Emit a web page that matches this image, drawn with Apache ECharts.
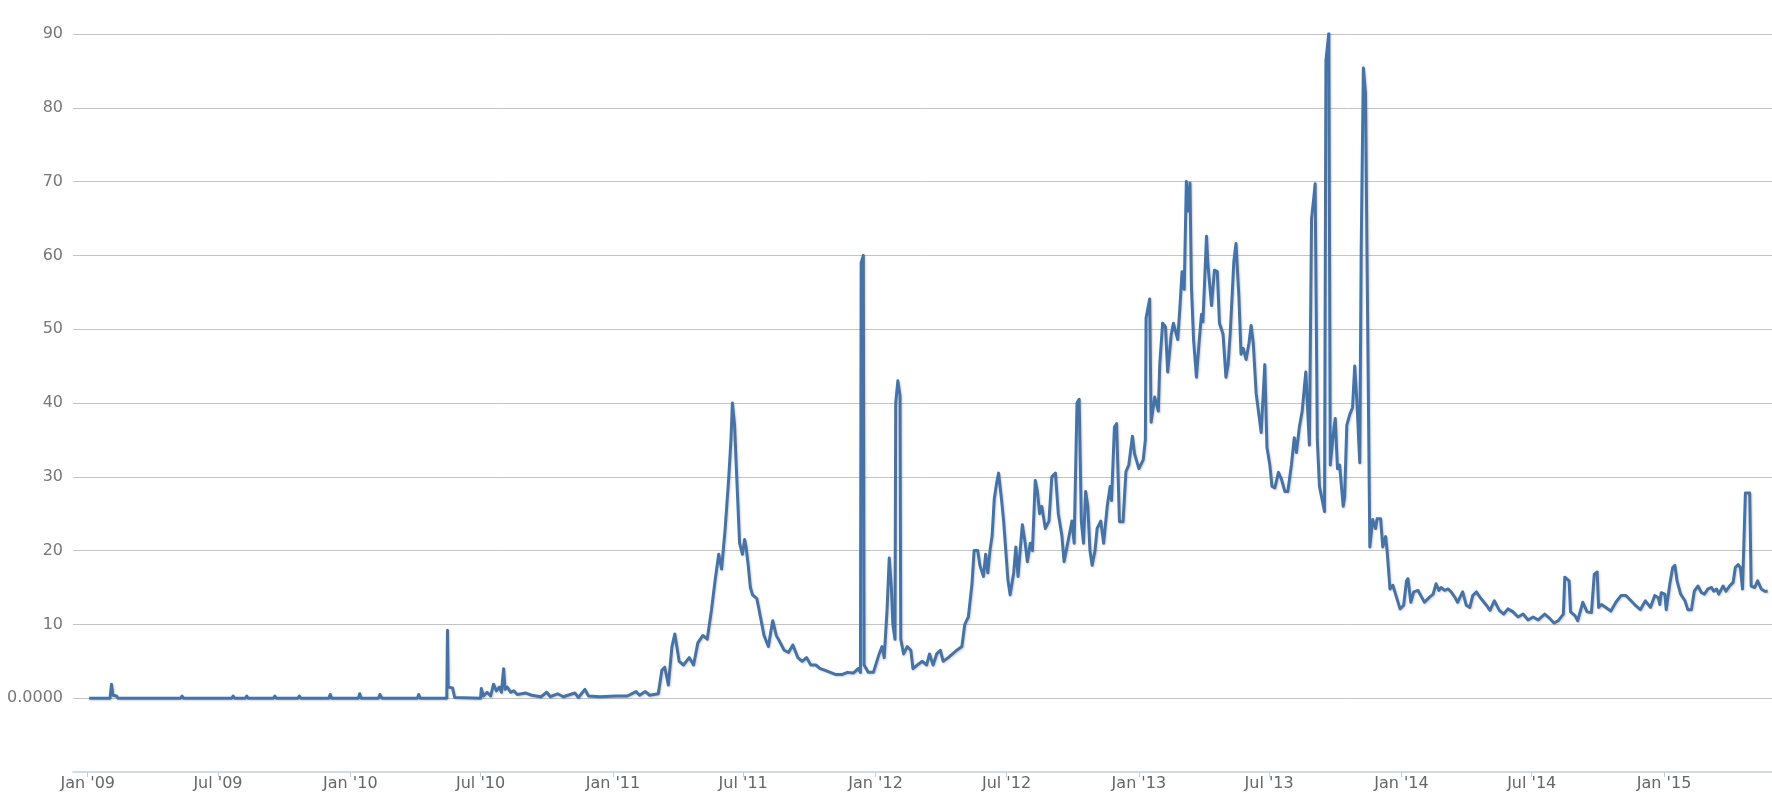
<!DOCTYPE html>
<html><head><meta charset="utf-8">
<script src="https://cdn.jsdelivr.net/npm/echarts@6/dist/echarts.min.js"></script>
<style>html,body{margin:0;padding:0;background:#fff}#c{width:1772px;height:805px}</style>
</head><body><div id="c"></div>
<script>
// ---------------- DATA ----------------
const dates2009 = ['01-03','02-01','02-03','02-05','02-10','02-12','05-10','05-12','05-14','07-20',
  '07-22','07-24','08-08','08-10','08-12','09-16','09-18','09-20','10-20','10-22',
  '10-24','12-02','12-04','12-06'];
const values2009 = [0,0,1.9,0.4,0.3,0,0,0.3,0,0,
  0.3,0,0,0.3,0,0,0.3,0,0,0.3,
  0,0,0.5,0];

const dates2010 = ['01-12','01-14','01-16','02-09','02-11','02-14','04-04','04-06','04-08','05-15',
  '05-16','05-17','05-23','05-26','07-01','07-02','07-05','07-10','07-15','07-19',
  '07-23','07-27','07-30','08-02','08-04','08-07','08-12','08-16','08-21','09-02',
  '09-10','09-23','10-01','10-06','10-16','10-24','11-09','11-14','11-23','11-28',
  '12-14'];
const values2010 = [0,0.6,0,0,0.5,0,0,0.5,0,0,
  9.2,1.5,1.4,0.1,0,1.3,0.3,0.8,0.3,1.9,
  1.0,1.5,0.8,4.0,1.2,1.5,0.8,1.0,0.5,0.7,
  0.4,0.2,0.8,0.2,0.6,0.2,0.7,0.1,1.2,0.3,
  0.2];

const dates2011 = ['01-05','01-21','02-02','02-07','02-15','02-21','03-05','03-10','03-14','03-19',
  '03-24','03-28','04-03','04-09','04-17','04-23','04-29','05-06','05-12','05-18',
  '05-23','05-28','06-01','06-06','06-11','06-14','06-16','06-19','06-22','06-26',
  '06-30','07-03','07-05','07-08','07-11','07-14','07-20','07-25','07-30','08-05',
  '08-11','08-16','08-20','08-27','09-02','09-08','09-15','09-21','09-27','10-03',
  '10-10','10-16','10-22','10-30','11-07','11-15','11-23','12-01','12-08','12-11',
  '12-12','12-15','12-16','12-22','12-29'];
const values2011 = [0.3,0.3,0.9,0.4,0.9,0.4,0.6,3.8,4.2,1.8,
  7,8.7,5,4.5,5.5,4.5,7.5,8.5,8,12,
  16,19.5,17.5,23,30,35,40,37,30,21,
  19.5,21.5,20.5,18,15,14,13.5,11,8.5,7,
  10.5,8.5,7.8,6.5,6.2,7.2,5.5,5,5.5,4.5,
  4.5,4,3.8,3.5,3.2,3.2,3.5,3.4,4,3.5,
  59,60,4.5,3.5,3.5];

const dates2012 = ['01-06','01-10','01-13','01-17','01-20','01-23','01-25','01-28','01-29','02-01',
  '02-04','02-05','02-09','02-14','02-19','02-22','02-28','03-06','03-12','03-16',
  '03-21','03-26','03-31','04-04','04-11','04-17','04-23','04-30','05-04','05-09',
  '05-14','05-17','05-22','05-25','05-30','06-02','06-05','06-08','06-11','06-14',
  '06-17','06-20','06-24','06-27','06-30','07-03','07-06','07-11','07-14','07-17',
  '07-20','07-23','07-27','07-30','08-03','08-06','08-10','08-13','08-16','08-19',
  '08-24','08-29','09-02','09-07','09-11','09-16','09-19','09-22','09-26','09-30',
  '10-03','10-07','10-10','10-13','10-16','10-19','10-22','10-25','10-28','11-01',
  '11-04','11-09','11-13','11-18','11-22','11-24','11-28','12-01','12-05','12-10',
  '12-14','12-18','12-23','12-26'];
const values2012 = [6,7,5.5,12,19,15,10,8,40,43,
  41,8,6,7,6.5,4,4.5,5,4.5,6,
  4.5,6,6.5,5,5.5,6,6.5,7,10,11,
  15.5,20,20,18,16.5,19.5,17,20,22,27,
  29,30.5,27,24,20,16,14,17,20.5,16.5,
  20,23.5,21,18.5,21,20,29.5,28,25,26,
  23,24,30,30.5,25,22,18.5,20,22,24,
  21,40,40.5,24,21,28,26,20,18,20,
  23,24,21,26,28.7,26.8,36.7,37.2,23.9,23.9,
  30.7,31.6,35.5,33.1];

const dates2013 = ['01-01','01-07','01-10','01-11','01-16','01-18','01-23','01-28','01-30','02-03',
  '02-07','02-10','02-15','02-18','02-24','02-27','03-02','03-05','03-08','03-10',
  '03-13','03-15','03-18','03-22','03-26','03-29','03-31','04-05','04-07','04-12',
  '04-16','04-20','04-23','04-28','05-02','05-05','05-08','05-13','05-16','05-20',
  '05-23','05-26','05-30','06-03','06-06','06-09','06-13','06-20','06-25','06-28',
  '07-02','07-05','07-09','07-14','07-18','07-23','07-27','08-01','08-05','08-08',
  '08-12','08-16','08-21','08-26','08-29','09-01','09-03','09-06','09-09','09-16',
  '09-18','09-22','09-24','09-29','10-01','10-04','10-07','10-12','10-14','10-17',
  '10-21','10-25','10-28','10-31','11-04','11-06','11-09','11-12','11-14','11-18',
  '11-22','11-26','11-28','12-03','12-06','12-10','12-12','12-16','12-20','12-25',
  '12-30'];
const values2013 = [31.1,32.3,35,51.5,54.1,37.4,40.8,38.9,45.2,50.8,
  50.3,44.2,49.3,50.8,48.6,52.9,57.8,55.4,70,66,
  69.8,55.8,48.6,43.5,48.6,52,51,62.6,58.7,53.2,
  58,57.8,50.8,49.3,43.5,45.2,49.5,59.2,61.6,54.4,
  46.6,47.4,45.9,48.1,50.5,48.1,41.3,36,45.2,34,
  31.6,28.7,28.5,30.6,29.7,28,28,31.6,35.3,33.3,
  36.7,38.9,44.2,34.3,65,67.7,69.7,35,28.7,25.3,
  86.4,90.1,31.6,36.5,37.9,31.1,31.6,26,27.3,37,
  38.4,39.4,45,40.3,31.9,60.7,85.4,82,60.7,20.5,
  24.2,23,24.3,24.3,20.5,21.9,20,14.8,15.3,13.7,
  12.1];

const dates2014 = ['01-04','01-08','01-10','01-14','01-18','01-24','01-29','02-02','02-09','02-14',
  '02-18','02-22','02-25','03-02','03-07','03-11','03-16','03-20','03-27','04-01',
  '04-06','04-10','04-15','04-20','04-24','04-29','05-04','05-10','05-17','05-23',
  '05-29','06-05','06-12','06-19','06-26','07-03','07-10','07-19','07-26','08-01',
  '08-07','08-14','08-16','08-22','08-24','08-30','09-03','09-10','09-16','09-22',
  '09-26','09-30','10-02','10-06','10-12','10-19','10-26','11-02','11-09','11-16',
  '11-23','11-29','12-06','12-13','12-19','12-24','12-26','12-28'];
const values2014 = [12.6,15.9,16.2,13,14.4,14.6,13.7,13,13.7,14.1,
  15.5,14.6,15,14.6,14.8,14.4,13.7,13,14.4,12.6,
  12.3,13.9,14.4,13.7,13.2,12.6,11.9,13.2,11.9,11.4,
  12.1,11.7,11,11.4,10.6,11,10.6,11.4,10.8,10.2,
  10.5,11.4,16.4,15.9,11.7,11.2,10.5,13,11.7,11.6,
  16.8,17.1,12.3,12.7,12.3,11.8,13,13.9,13.9,13.2,
  12.5,12,13.2,12.3,13.9,13.6,12.7,14.3];

const dates2015 = ['01-02','01-04','01-09','01-13','01-16','01-19','01-24','01-30','02-03','02-08',
  '02-12','02-17','02-22','02-26','03-03','03-08','03-11','03-15','03-18','03-24',
  '03-28','04-02','04-07','04-10','04-14','04-17','04-20','04-22','04-24','04-30',
  '05-02','05-07','05-11','05-16','05-21','05-25'];
const values2015 = [14.1,12,15.5,17.7,18,15.9,14.1,13.2,12,12,
  14.5,15.2,14.3,14.1,14.8,15,14.5,14.8,14.1,15.2,
  14.5,15.2,15.7,17.7,18.1,17.7,14.8,15,27.8,27.8,
  15.2,15,15.9,14.8,14.5,14.5];

const xTickDates = ['2009-01-01','2009-07-01','2010-01-01','2010-07-01','2011-01-01','2011-07-01',
  '2012-01-01','2012-07-01','2013-01-01','2013-07-01','2014-01-01','2014-07-01','2015-01-01'];
const xTickLabels = ["Jan '09","Jul '09","Jan '10","Jul '10","Jan '11","Jul '11",
  "Jan '12","Jul '12","Jan '13","Jul '13","Jan '14","Jul '14","Jan '15"];
const xRange = ['2008-12-11T12:00:00', '2015-05-31T00:00:00'];
const yRange = [-10, 90];
const yStep = 10;

// ---------------- BUILD ----------------
function parseUTC(s){
  const [dp, tp] = s.split('T');
  const p = dp.split('-').map(Number);
  const t = tp ? tp.split(':').map(Number) : [0,0,0];
  return Date.UTC(p[0], p[1]-1, p[2], t[0]||0, t[1]||0, t[2]||0);
}
const years = [
  [2009, dates2009, values2009],[2010, dates2010, values2010],[2011, dates2011, values2011],
  [2012, dates2012, values2012],[2013, dates2013, values2013],[2014, dates2014, values2014],
  [2015, dates2015, values2015]
];
const seriesData = [];
years.forEach(([y, ds, vs]) => {
  if (ds.length !== vs.length) console.error('length mismatch', y, ds.length, vs.length);
  ds.forEach((md, i) => seriesData.push([parseUTC(y + '-' + md), vs[i]]));
});
const tickTimes = xTickDates.map(parseUTC);

const chart = echarts.init(document.getElementById('c'), null, {renderer: 'canvas'});
chart.setOption({
  animation: false,
  backgroundColor: '#ffffff',
  grid: {left: 73, right: 0, top: 34, bottom: 33, containLabel: false},
  xAxis: {
    type: 'value',
    min: parseUTC(xRange[0]),
    max: parseUTC(xRange[1]),
    axisLine: {show: true, onZero: false, lineStyle: {color: '#C0D0E0', width: 1.5}},
    axisTick: {show: true, customValues: tickTimes, length: 5, lineStyle: {color: '#C0D0E0'}},
    axisLabel: {
      customValues: tickTimes,
      formatter: function (v) {
        let best = -1, bd = Infinity;
        tickTimes.forEach((t, i) => { const d = Math.abs(t - v); if (d < bd) { bd = d; best = i; } });
        return bd < 86400000 ? xTickLabels[best] : '';
      },
      color: '#666666', fontFamily: 'DejaVu Sans', fontSize: 16, margin: 4,
      hideOverlap: false
    },
    splitLine: {show: false}
  },
  yAxis: {
    type: 'value',
    min: yRange[0], max: yRange[1], interval: yStep,
    axisLine: {show: false},
    axisTick: {show: false},
    axisLabel: {
      formatter: v => v === 0 ? '0.0000' : (v < 0 ? '' : String(v)),
      color: '#777777', fontFamily: 'DejaVu Sans', fontSize: 16, margin: 10
    },
    splitLine: {show: true, showMinLine: false, lineStyle: {color: '#C4C4C4', width: 1}}
  },
  series: [{
    type: 'line',
    data: seriesData,
    showSymbol: false,
    symbol: 'none',
    sampling: null,
    lineStyle: {color: '#4572A7', width: 3, join: 'round',
      shadowColor: 'rgba(0,0,0,0.18)', shadowBlur: 2, shadowOffsetX: 1, shadowOffsetY: 1},
    itemStyle: {color: '#4572A7'}
  }]
});
</script>
</body></html>
